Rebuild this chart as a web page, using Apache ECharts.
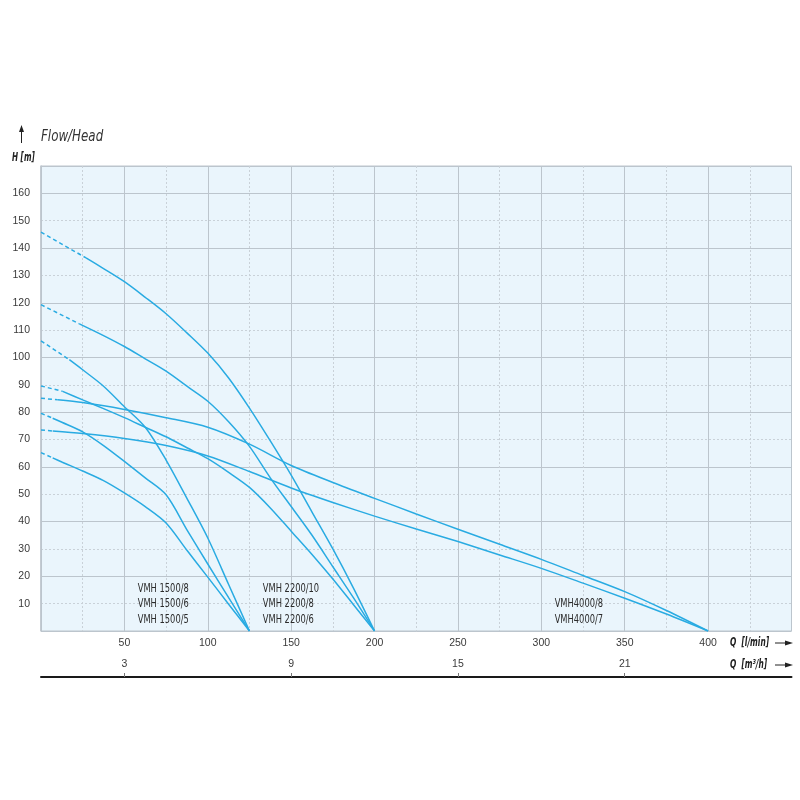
<!DOCTYPE html>
<html>
<head>
<meta charset="utf-8">
<script src="https://cdn.jsdelivr.net/npm/echarts@6/dist/echarts.min.js"></script>
<style>
html,body{margin:0;padding:0;background:#fff;}
#c{width:800px;height:800px;}
</style>
</head>
<body>
<div id="c"></div>
<script>
// ---- data (flow in l/min, head in m) ----
const q_2200_10 = [0, 27, 37.5, 50, 62.5, 75, 87.5, 100, 112.5, 125, 137.5, 150, 162.5, 175, 187.5, 200];
const h_2200_10 = [145.8, 136.4, 132.5, 127.7, 122, 116, 109, 101.6, 92.5, 81.5, 69.5, 57, 43.5, 30, 15.5, 0];

const q_2200_8 = [0, 23, 37.5, 50, 62.5, 75, 87.5, 100, 112.5, 125, 137.5, 150, 162.5, 175, 187.5, 200];
const h_2200_8 = [119.3, 112.3, 108, 104, 99.5, 95, 89.5, 84, 76.5, 67.5, 56, 45.5, 35, 23.5, 12, 0];

const q_2200_6 = [0, 13, 25, 37.5, 50, 62.5, 75, 87.5, 100, 112.5, 125, 137.5, 150, 162.5, 175, 187.5, 200];
const h_2200_6 = [89.6, 87.6, 84.5, 81.3, 78, 74.5, 71, 67, 63, 58, 52.5, 45, 36.5, 28, 19, 9.5, 0];

const q_1500_8 = [0, 17, 25, 37.5, 50, 62.5, 75, 87.5, 100, 112.5, 125];
const h_1500_8 = [106.1, 99.2, 95.5, 89.5, 82, 74.5, 62.5, 48.5, 34, 17, 0];

const q_1500_6 = [0, 7, 12.5, 25, 37.5, 50, 62.5, 75, 87.5, 100, 112.5, 125];
const h_1500_6 = [79.6, 77.8, 76.3, 72.8, 67.8, 62, 56, 49.8, 37, 24.5, 12.2, 0];

const q_1500_5 = [0, 7, 12.5, 25, 37.5, 50, 62.5, 75, 87.5, 100, 112.5, 125];
const h_1500_5 = [65.2, 63.3, 61.8, 58.5, 55, 50.5, 45.5, 39.5, 29.5, 19.7, 9.8, 0];

const q_4000_8 = [0, 10, 25, 50, 75, 100, 125, 150, 175, 200, 225, 250, 275, 300, 325, 350, 375, 400];
const h_4000_8 = [85.1, 84.5, 83.5, 81, 78, 74.5, 68.3, 60.5, 54.3, 48.5, 42.8, 37.2, 31.7, 26.2, 20.3, 14.4, 7.5, 0];

const q_4000_7 = [0, 7, 25, 50, 75, 100, 125, 150, 175, 200, 225, 250, 275, 300, 325, 350, 375, 400];
const h_4000_7 = [73.5, 73.1, 72.2, 70.4, 67.8, 64, 58.3, 52.3, 47, 42, 37.3, 32.7, 27.8, 22.9, 17.5, 12, 6.2, 0];

// index of the last point of the dashed (extrapolated) start of each curve
const dashEndIndex = [1, 1, 1, 1, 1, 1, 1, 1];

const labels1500 = ['VMH 1500/8', 'VMH 1500/6', 'VMH 1500/5'];
const labels2200 = ['VMH 2200/10', 'VMH 2200/8', 'VMH 2200/6'];
const labels4000 = ['VMH4000/8', 'VMH4000/7'];

const m3hTicks = [3, 9, 15, 21];

// ---- build ----
const curves = [
  [q_2200_10, h_2200_10], [q_2200_8, h_2200_8], [q_2200_6, h_2200_6],
  [q_1500_8, h_1500_8], [q_1500_6, h_1500_6], [q_1500_5, h_1500_5],
  [q_4000_8, h_4000_8], [q_4000_7, h_4000_7]
];

const LINE = '#29abe2';
const MAJOR = '#bcc5cd';
const MINOR = '#c9d1d8';
const NUMFONT = "'Liberation Sans',Arial,sans-serif";

const series = [];
curves.forEach(function (c, i) {
  const pts = c[0].map(function (q, k) { return [q, c[1][k]]; });
  const d = dashEndIndex[i];
  series.push({
    type: 'line', data: pts.slice(0, d + 1), showSymbol: false, symbol: 'none',
    silent: true, animation: false, z: 3,
    lineStyle: { color: LINE, width: 1.5, type: [4, 3] }
  });
  series.push({
    type: 'line', data: pts.slice(d), showSymbol: false, symbol: 'none',
    silent: true, animation: false, z: 3, smooth: 0.3,
    lineStyle: { color: LINE, width: 1.5 }
  });
});

const chart = echarts.init(document.getElementById('c'));
chart.setOption({
  animation: false,
  grid: { left: 41, right: 8.5, top: 166, bottom: 169, show: true,
          backgroundColor: '#eaf5fc', borderColor: MAJOR, borderWidth: 1 },
  xAxis: [
    { type: 'value', min: 0, max: 450, interval: 50, position: 'bottom',
      axisLine: { show: false }, axisTick: { show: false },
      axisLabel: { showMinLabel: false, showMaxLabel: false, margin: 7,
                   fontSize: 10.5, color: '#3a3a3a', fontFamily: NUMFONT },
      splitLine: { show: true, lineStyle: { color: MAJOR, width: 1 } },
      minorTick: { show: false, splitNumber: 2 },
      minorSplitLine: { show: true, lineStyle: { color: MINOR, width: 1, type: [2, 2] } } },
    { type: 'value', min: 0, max: 27, position: 'bottom', offset: 46,
      axisLine: { show: true, onZero: false, lineStyle: { color: '#1a1a1a', width: 2 } },
      axisTick: { show: true, inside: true, length: 4, customValues: m3hTicks,
                  lineStyle: { color: '#777', width: 1 } },
      axisLabel: { inside: true, margin: 7, customValues: m3hTicks,
                   fontSize: 10.5, color: '#3a3a3a', fontFamily: NUMFONT },
      splitLine: { show: false } }
  ],
  yAxis: [
    { type: 'value', min: 0, max: 170, interval: 10,
      axisLine: { show: true, lineStyle: { color: MAJOR, width: 1.5 } },
      axisTick: { show: false },
      axisLabel: { showMinLabel: false, showMaxLabel: false, margin: 11,
                   fontSize: 10.5, color: '#3a3a3a', fontFamily: NUMFONT },
      splitLine: { show: true, lineStyle: { color: MINOR, width: 1, type: [2, 2] } } },
    { type: 'value', min: 0, max: 170, interval: 20,
      axisLine: { show: false }, axisTick: { show: false }, axisLabel: { show: false },
      splitLine: { show: true, lineStyle: { color: MAJOR, width: 1 } } }
  ],
  series: series
});

// ---- annotations ----
const TXTFONT = "'DejaVu Sans Condensed','Liberation Sans',sans-serif";
const g = [];
function modelLabels(list, qx, rows) {
  list.forEach(function (t, i) {
    const p = chart.convertToPixel({ gridIndex: 0 }, [qx, rows[i]]);
    g.push({ type: 'text', x: p[0], y: p[1], scaleX: 0.74, silent: true,
      style: { text: t, fill: '#2b2b2b', font: "12.5px " + TXTFONT, textVerticalAlign: 'middle', textAlign: 'left' } });
  });
}
modelLabels(labels1500, 58, [15.4, 9.9, 4.1]);
modelLabels(labels2200, 133, [15.4, 9.9, 4.1]);
modelLabels(labels4000, 308, [9.9, 4.1]);

// title block
g.push({ type: 'text', x: 41, y: 137, scaleX: 0.8, silent: true,
  style: { text: 'Flow/Head', fill: '#333', font: "italic 16.5px " + TXTFONT, textVerticalAlign: 'middle' } });
g.push({ type: 'text', x: 12, y: 158.5, scaleX: 0.7, silent: true,
  style: { text: 'H [m]', fill: '#222', font: "italic bold 11.5px " + TXTFONT, textVerticalAlign: 'middle' } });
// up arrow
g.push({ type: 'line', silent: true, shape: { x1: 21.5, y1: 143, x2: 21.5, y2: 130 }, style: { stroke: '#222', lineWidth: 1 } });
g.push({ type: 'polygon', silent: true, shape: { points: [[21.5, 125], [19, 132], [24, 132]] }, style: { fill: '#222' } });

// Q labels and right arrows
[[643, 'Q  [l/min]'], [665, 'Q  [m\u00b3/h]']].forEach(function (r) {
  g.push({ type: 'text', x: 730, y: r[0], scaleX: 0.66, silent: true,
    style: { text: r[1], fill: '#222', font: "italic bold 12.5px " + TXTFONT, textVerticalAlign: 'middle', textAlign: 'left' } });
  g.push({ type: 'line', silent: true, shape: { x1: 775, y1: r[0], x2: 787, y2: r[0] }, style: { stroke: '#222', lineWidth: 1 } });
  g.push({ type: 'polygon', silent: true, shape: { points: [[793, r[0]], [785, r[0] - 2.5], [785, r[0] + 2.5]] }, style: { fill: '#222' } });
});

chart.setOption({ graphic: g });
</script>
</body>
</html>
